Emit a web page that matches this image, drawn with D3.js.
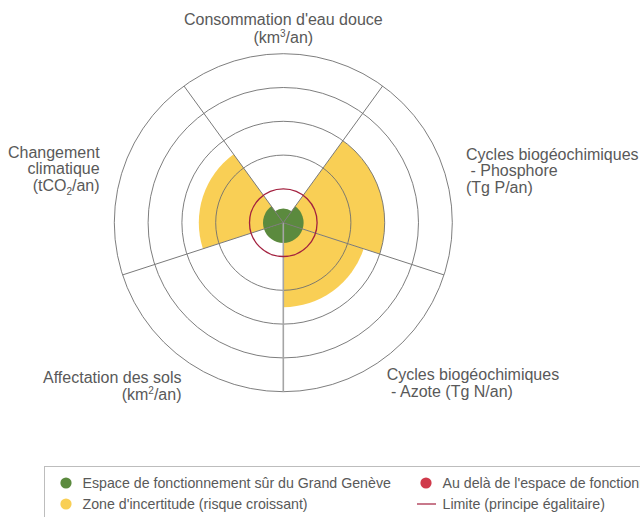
<!DOCTYPE html>
<html>
<head>
<meta charset="utf-8">
<script src="https://cdn.jsdelivr.net/npm/d3@7"></script>
<style>
  body { margin: 0; background: #fff; }
  svg { display: block; font-family: "Liberation Sans", Arial, sans-serif; }
</style>
</head>
<body>
<svg id="chart" width="640" height="517"></svg>
<script>
"use strict";

// axes, clockwise from the top
var axes = ["eau", "phosphore", "azote", "sols", "climat"];
// label lines per axis; [text, sup/sub] parts
var axisLabels = [
  [[["Consommation d'eau douce"]], [["(km"], ["3", "sup"], ["/an)"]]],
  [[["Cycles biogéochimiques"]], [[" - Phosphore"]], [["(Tg P/an)"]]],
  [[["Cycles biogéochimiques"]], [[" - Azote (Tg N/an)"]]],
  [[["Affectation des sols"]], [["(km"], ["2", "sup"], ["/an)"]]],
  [[["Changement"]], [["climatique"]], [["(tCO"], ["2", "sub"], ["/an)"]]]
];
// values in units of the limit (limit = 1)
var safeValues = [0.42, 0.6, 0.6, 0.6, 0.6];
var uncertaintyValues = [0, 3.0, 2.5, 0, 2.5];
var limitValue = 1;
var rings = [1, 2, 3, 4, 5];

var legendItems = [
  {label: "Espace de fonctionnement sûr du Grand Genève", type: "dot", color: "#5b8a3e"},
  {label: "Au delà de l'espace de fonctionnement sûr", type: "dot", color: "#d03a4b"},
  {label: "Zone d'incertitude (risque croissant)", type: "dot", color: "#f9cf55"},
  {label: "Limite (principe égalitaire)", type: "line", color: "#a3213f"}
];

var Draw = (function() {
  var cx = 283.3, cy = 222.7, R = 169;
  var svg = d3.select("#chart");
  var g = svg.append("g").attr("transform", "translate(" + cx + "," + cy + ")");

  var angle = d3.scaleBand()
      .domain(axes)
      .range([-Math.PI / 5, 2 * Math.PI - Math.PI / 5])
      .padding(0);
  var r = d3.scaleLinear().domain([0, 5]).range([0, R]);

  var arc = d3.arc()
      .innerRadius(0)
      .outerRadius(d => r(d.v))
      .startAngle(d => angle(d.axis))
      .endAngle(d => angle(d.axis) + angle.bandwidth());

  // uncertainty zone
  g.append("g").selectAll("path")
    .data(axes.map((a, i) => ({axis: a, v: uncertaintyValues[i]})).filter(d => d.v > 0))
    .join("path")
      .attr("d", arc)
      .attr("fill", "#f9cf55");

  // safe operating space
  g.append("g").selectAll("path")
    .data(axes.map((a, i) => ({axis: a, v: safeValues[i]})))
    .join("path")
      .attr("d", arc)
      .attr("fill", "#5b8a3e");

  // grid rings
  g.append("g").selectAll("circle")
    .data(rings.filter(d => d !== limitValue))
    .join("circle")
      .attr("r", d => r(d))
      .attr("fill", "none")
      .attr("stroke", "#6f6f6f")
      .attr("stroke-width", 0.9);

  // dividers
  g.append("g").selectAll("line")
    .data(axes)
    .join("line")
      .attr("x1", 0).attr("y1", 0)
      .attr("x2", d => r(5) * Math.sin(angle(d)))
      .attr("y2", d => -r(5) * Math.cos(angle(d)))
      .attr("stroke", d => d === "sols" ? "#a5a5a5" : "#7a7a7a")
      .attr("stroke-width", d => d === "sols" ? 1.6 : 1);

  // limit
  g.append("circle")
      .attr("r", r(limitValue))
      .attr("fill", "none")
      .attr("stroke", "#a3213f")
      .attr("stroke-width", 1.3);

  // axis labels
  var labelPos = {
    eau:       {anchor: "middle", dx: 0,   dy: -30.7},
    phosphore: {anchor: "start",  dx: 22,  dy: -10.5},
    azote:     {anchor: "start",  dx: 4,   dy: 20.8},
    sols:      {anchor: "end",    dx: -2.5, dy: 23.8},
    climat:    {anchor: "end",    dx: -23, dy: -12.5}
  };
  var lineH = 16.4;

  axes.forEach(function(a, i) {
    var mid = angle(a) + angle.bandwidth() / 2;
    var p = labelPos[a];
    var x = r(5) * Math.sin(mid) + p.dx;
    var y = -r(5) * Math.cos(mid) + p.dy;
    if (a === "eau") y -= (axisLabels[i].length - 1) * lineH - 18;
    axisLabels[i].forEach(function(line, j) {
      var t = g.append("text")
          .attr("x", x)
          .attr("y", y + j * (a === "eau" ? 18 : lineH))
          .attr("text-anchor", p.anchor)
          .attr("fill", "#595959")
          .attr("font-size", 16)
          .style("white-space", "pre");
      line.forEach(function(part) {
        var s = t.append("tspan").text(part[0]);
        if (part[1] === "sup") s.attr("font-size", 10).attr("dy", -6);
        else if (part[1] === "sub") s.attr("font-size", 10).attr("dy", 4);
        else if (line.length > 1 && part !== line[0]) {
          var prev = line[line.indexOf(part) - 1];
          if (prev[1] === "sup") s.attr("dy", 6);
          if (prev[1] === "sub") s.attr("dy", -4);
        }
      });
    });
  });

  // legend
  var legend = svg.append("g");
  legend.append("rect")
      .attr("x", 44.5).attr("y", 466.5)
      .attr("width", 700).attr("height", 100)
      .attr("fill", "none")
      .attr("stroke", "#bdbdbd");

  var item = legend.selectAll("g.item")
    .data(legendItems)
    .join("g")
      .attr("class", "item")
      .attr("transform", (d, i) => "translate(" + (i % 2 ? 426 : 66) + "," + (i < 2 ? 483 : 504) + ")");

  item.filter(d => d.type === "dot").append("circle")
      .attr("r", 5.6)
      .attr("fill", d => d.color);
  item.filter(d => d.type === "line").append("line")
      .attr("x1", -9).attr("x2", 10)
      .attr("stroke", d => d.color)
      .attr("stroke-width", 1.2);
  item.append("text")
      .attr("x", 16.5)
      .attr("y", 5)
      .attr("fill", "#595959")
      .attr("font-size", 14.2)
      .text(d => d.label);
});

Draw();
</script>
</body>
</html>
